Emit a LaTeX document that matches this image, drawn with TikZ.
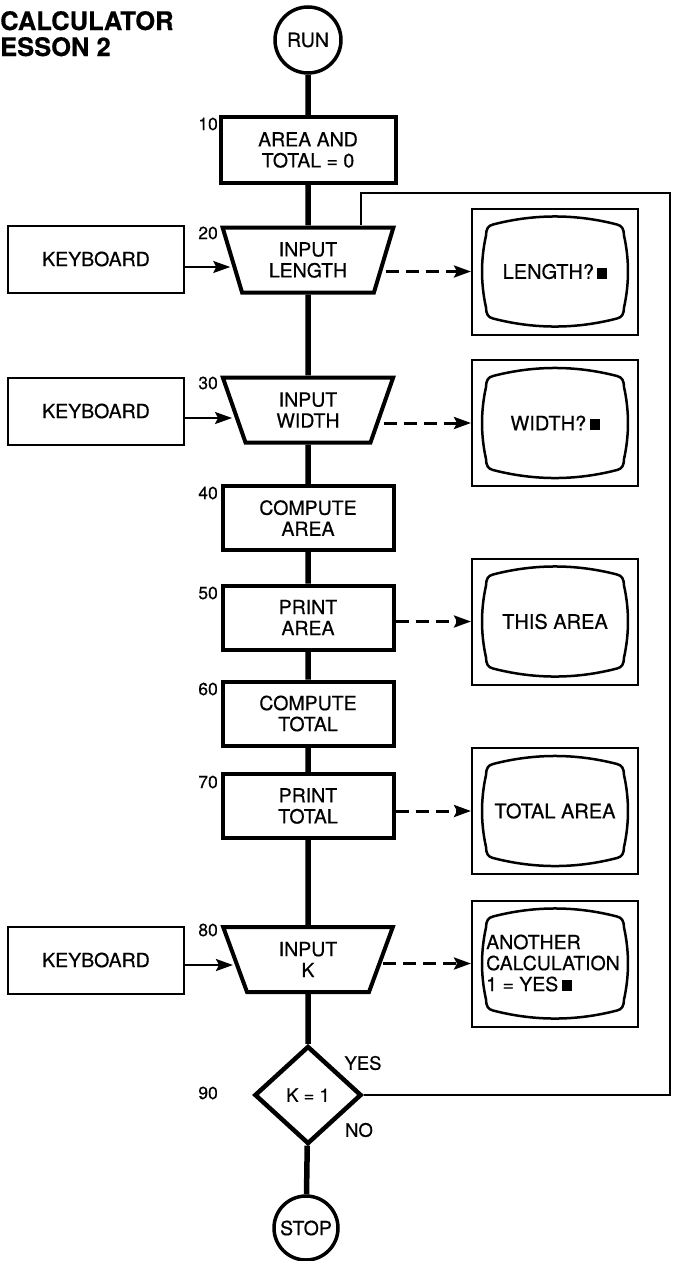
\documentclass[tikz,border=0pt]{standalone}
\usepackage{fontspec}
\setmainfont{TeX Gyre Heros}[FakeBold=0.5]
\usetikzlibrary{shapes.geometric,arrows.meta}
\newcommand\flowfont{\fontsize{19.5}{21}\selectfont}
\newcommand\monfont{\fontsize{20}{21}\selectfont}
\newcommand\lblfont{\fontsize{17.5}{19}\selectfont}
\newcommand\cursorbox{\,\rule{10pt}{11pt}}
\tikzset{
  flowbox/.style={draw, line width=4pt, minimum width=171pt, minimum height=64pt, inner sep=0pt, align=center, font=\flowfont},
  inbox/.style={trapezium, trapezium stretches=true, trapezium left angle=72, trapezium right angle=72, shape border rotate=180, draw, line width=4pt, minimum width=171pt, minimum height=65pt, inner sep=0pt, align=center, font=\flowfont},
  kbbox/.style={draw, line width=2pt, minimum width=176pt, minimum height=67pt, inner sep=0pt, font=\flowfont},
  monitor/.style={draw, line width=2pt, minimum width=166pt, minimum height=126pt, inner sep=0pt, font=\monfont},
  terminal/.style={circle, draw, line width=3.5pt, inner sep=0pt, font=\flowfont},
  flowline/.style={line width=5.5pt},
  loopline/.style={line width=2pt},
  kbarrow/.style={line width=2.2pt, -{Stealth[length=17pt,width=12pt,inset=3pt]}},
  dasharrow/.style={line width=3pt, dash pattern=on 13pt off 7pt, -{Stealth[length=17pt,width=12pt,inset=3pt]}},
  lbl/.style={anchor=east, inner sep=0pt, font=\lblfont},
  tvscreen/.pic={\draw[line width=2.5pt] (-62,-47) .. controls (-20.7,-57.7) and (20.7,-57.7) .. (62,-47) .. controls (67,-46) and (69,-42) .. (69,-36) .. controls (74.3,-12) and (74.3,12) .. (69,36) .. controls (69,42) and (67,46) .. (62,47) .. controls (20.7,57.7) and (-20.7,57.7) .. (-62,47) .. controls (-67,46) and (-69,42) .. (-69,36) .. controls (-74.3,12) and (-74.3,-12) .. (-69,-36) .. controls (-69,-42) and (-67,-46) .. (-62,-47) -- cycle;}
}
\begin{document}
\begin{tikzpicture}[x=1pt,y=-1pt]
\useasboundingbox (0,0) rectangle (673,1261);
% title
\node[anchor=base west, inner sep=0pt, font=\fontsize{25.5}{26}\selectfont\bfseries] (title1) at (0,30) {CALCULATOR};
\node[anchor=base west, inner sep=0pt, font=\fontsize{25.5}{26}\selectfont\bfseries] (title2) at (0,56) {ESSON 2};
% main column
\node[terminal, minimum size=66pt] (run) at (308,40) {RUN};
\node[flowbox, minimum width=175pt, minimum height=66pt] (b10) at (308,150) {AREA AND\\TOTAL = 0};
\node[inbox] (t20) at (308,260) {INPUT\\LENGTH};
\node[inbox] (t30) at (308,410) {INPUT\\WIDTH};
\node[flowbox] (b40) at (308,518) {COMPUTE\\AREA};
\node[flowbox] (b50) at (308,617.5) {PRINT\\AREA};
\node[flowbox] (b60) at (308,713.5) {COMPUTE\\TOTAL};
\node[flowbox] (b70) at (308,806) {PRINT\\TOTAL};
\node[inbox] (t80) at (308,959.5) {INPUT\\K};
\node[diamond, draw, line width=4.5pt, minimum width=107pt, minimum height=98pt, aspect=1.09, inner sep=0pt, font=\fontsize{18.5}{20}\selectfont] (d90) at (308,1095) {K = 1};
\node[terminal, minimum size=64pt] (stop) at (306,1228) {STOP};
% line numbers
\node[lbl] (l10) at (218,124) {10};
\node[lbl] (l20) at (218,233) {20};
\node[lbl] (l30) at (218,383) {30};
\node[lbl] (l40) at (218,493) {40};
\node[lbl] (l50) at (218,593) {50};
\node[lbl] (l60) at (218,689) {60};
\node[lbl] (l70) at (218,782) {70};
\node[lbl] (l80) at (218,930) {80};
\node[lbl] (l90) at (218,1093) {90};
\node[font=\fontsize{18.5}{20}\selectfont, inner sep=0pt] (yes) at (363,1063) {YES};
\node[font=\fontsize{18.5}{20}\selectfont, inner sep=0pt] (no) at (359,1130) {NO};
% keyboards
\node[kbbox] (kb1) at (96,259) {KEYBOARD};
\node[kbbox] (kb2) at (96,411) {KEYBOARD};
\node[kbbox] (kb3) at (96,960) {KEYBOARD};
% monitors
\node[monitor] (m1) at (555,271.5) {LENGTH?\cursorbox};
\node[monitor] (m2) at (555,423) {WIDTH?\cursorbox};
\node[monitor] (m3) at (555,621.5) {THIS AREA};
\node[monitor] (m4) at (555,811) {TOTAL AREA};
\node[monitor] (m5) at (555,963.5) {};
\node[anchor=west, align=left, inner sep=0pt, font=\flowfont] (m5t) at (486,963) {ANOTHER\\CALCULATION\\1 = YES\cursorbox};
\pic at (m1.center) {tvscreen};
\pic at (m2.center) {tvscreen};
\pic at (m3.center) {tvscreen};
\pic at (m4.center) {tvscreen};
\pic at (m5.center) {tvscreen};
% flow lines
\draw[flowline] (run) -- (b10) -- (t20) -- (t30) -- (b40) -- (b50) -- (b60) -- (b70) -- (t80) -- (d90) -- (stop);
% loop back
\coordinate (lpA) at (670,193);
\coordinate (lpB) at (361,193);
\draw[loopline] (d90.east) -| (lpA) -- (lpB) -- (lpB |- t20.north);
% keyboard inputs
\coordinate (k1s) at ([yshift=-8pt]kb1.east);
\coordinate (k2s) at ([yshift=-7pt]kb2.east);
\coordinate (k3s) at ([yshift=-5pt]kb3.east);
\draw[kbarrow] (k1s) -- (k1s -| t20.west);
\draw[kbarrow] (k2s) -- (k2s -| t30.west);
\draw[kbarrow] (k3s) -- (k3s -| t80.west);
% outputs
\draw[dasharrow] (t20.east |- m1.west) -- (m1.west);
\draw[dasharrow] (t30.east |- m2.west) -- (m2.west);
\draw[dasharrow] (b50.east |- m3.west) -- (m3.west);
\draw[dasharrow] (b70.east |- m4.west) -- (m4.west);
\draw[dasharrow] (t80.east |- m5.west) -- (m5.west);
\end{tikzpicture}
\end{document}
